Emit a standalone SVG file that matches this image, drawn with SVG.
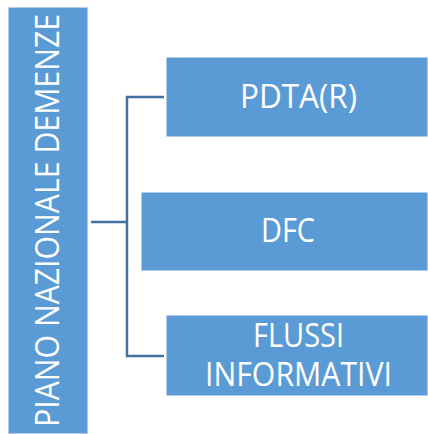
<svg xmlns="http://www.w3.org/2000/svg" width="428" height="434" viewBox="0 0 428 434">
<style>
.box{fill:#5B9BD5;stroke:#FFFFFF;stroke-width:1}
.lbl{fill:#FFFFFF;font-family:"Open Sans","Liberation Sans",sans-serif;font-size:32px;text-anchor:middle}
.conn{fill:none;stroke:#41719C;stroke-width:2.5}
</style>
<rect width="428" height="434" fill="#FFFFFF"/>
<g id="connectors">
<path class="conn" d="M91 222 H127 M164 97 H127 V356 H164"/>
</g>
<g id="piano">
<rect class="box" x="8" y="7" width="80" height="427"/>
<text class="lbl" transform="translate(59 220.5) rotate(-90)" textLength="413" lengthAdjust="spacingAndGlyphs">PIANO NAZIONALE DEMENZE</text>
</g>
<g id="pdta">
<rect class="box" x="166" y="57" width="262" height="80"/>
<text class="lbl" x="298.5" y="108" textLength="117" lengthAdjust="spacingAndGlyphs">PDTA(R)</text>
</g>
<g id="dfc">
<rect class="box" x="141" y="192" width="287" height="79"/>
<text class="lbl" x="288" y="242" textLength="54" lengthAdjust="spacingAndGlyphs">DFC</text>
</g>
<g id="flussi">
<rect class="box" x="166" y="315" width="262" height="81"/>
<text class="lbl" x="298.5" y="347" textLength="91" lengthAdjust="spacingAndGlyphs">FLUSSI</text>
<text class="lbl" x="298.5" y="386" textLength="187" lengthAdjust="spacingAndGlyphs">INFORMATIVI</text>
</g>
</svg>
